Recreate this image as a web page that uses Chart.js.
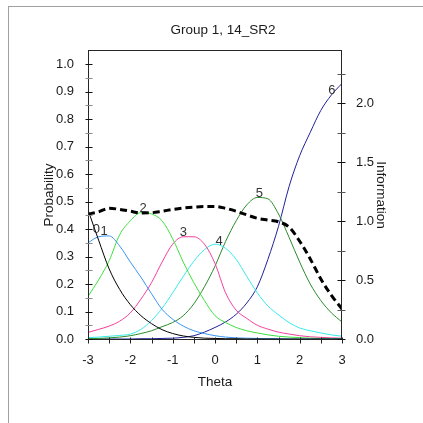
<!DOCTYPE html>
<html>
<head>
<meta charset="utf-8">
<title>Group 1, 14_SR2</title>
<script src="https://cdn.jsdelivr.net/npm/chart.js@4/dist/chart.umd.min.js"></script>
<style>
  html, body { margin: 0; padding: 0; background: #fff; }
  #wrap { position: relative; width: 423px; height: 423px; overflow: hidden; }
  #frame { position: absolute; left: 8px; top: 6px; right: -2px; bottom: -2px;
           border-top: 1px solid #a0a0a0; border-left: 1px solid #a0a0a0; }
  canvas { position: absolute; left: 0; top: 0; }
</style>
</head>
<body>
<div id="wrap">
  <div id="frame"></div>
  <canvas id="chart" width="423" height="423"></canvas>
</div>
<script>
// Ability grid (theta) shared by every curve
const theta = [-3, -2.75, -2.5, -2.25, -2, -1.75, -1.5, -1.25, -1, -0.75, -0.5, -0.25,
               0, 0.25, 0.5, 0.75, 1, 1.25, 1.5, 1.75, 2, 2.25, 2.5, 2.75, 3];

// Category response probabilities, one array per score category
const cat0 = [0.47, 0.36, 0.255, 0.18, 0.125, 0.085, 0.056, 0.034, 0.02, 0.011, 0.006, 0.003,
              0.002, 0.001, 0.001, 0, 0, 0, 0, 0, 0, 0, 0, 0, 0];
const cat1 = [0.35, 0.372, 0.375, 0.338, 0.28, 0.225, 0.165, 0.108, 0.072, 0.047, 0.03, 0.02,
              0.012, 0.007, 0.004, 0.003, 0.002, 0.001, 0.001, 0, 0, 0, 0, 0, 0];
const cat2 = [0.155, 0.215, 0.285, 0.38, 0.43, 0.46, 0.455, 0.43, 0.365, 0.28, 0.205, 0.14,
              0.085, 0.06, 0.042, 0.03, 0.022, 0.015, 0.01, 0.007, 0.005, 0.003, 0.002, 0.001, 0.001];
const cat3 = [0.024, 0.035, 0.047, 0.065, 0.095, 0.145, 0.205, 0.28, 0.345, 0.372, 0.372, 0.345,
              0.275, 0.168, 0.105, 0.075, 0.05, 0.036, 0.025, 0.018, 0.012, 0.008, 0.006, 0.004, 0.003];
const cat4 = [0.005, 0.007, 0.01, 0.013, 0.018, 0.035, 0.067, 0.112, 0.168, 0.228, 0.283, 0.325,
              0.345, 0.33, 0.29, 0.228, 0.168, 0.12, 0.088, 0.06, 0.04, 0.03, 0.022, 0.015, 0.01];
const cat5 = [0.001, 0.002, 0.004, 0.007, 0.012, 0.02, 0.03, 0.045, 0.06, 0.085, 0.128, 0.19,
              0.265, 0.355, 0.43, 0.488, 0.515, 0.51, 0.455, 0.37, 0.28, 0.2, 0.14, 0.095, 0.062];
const cat6 = [0, 0, 0, 0, 0, 0.001, 0.001, 0.002, 0.003, 0.006, 0.012, 0.025,
              0.042, 0.062, 0.09, 0.131, 0.19, 0.29, 0.41, 0.555, 0.667, 0.752, 0.832, 0.888, 0.93];

// Item information function (right axis)
const information = [1.06, 1.08, 1.11, 1.1, 1.085, 1.07, 1.072, 1.085, 1.1, 1.112, 1.12, 1.125,
                     1.125, 1.11, 1.085, 1.054, 1.025, 1.01, 0.995, 0.95, 0.83, 0.68, 0.51, 0.37, 0.255];

const categories = [cat0, cat1, cat2, cat3, cat4, cat5, cat6];
const categoryNames = ['0', '1', '2', '3', '4', '5', '6'];
// Theta at which each category number is written on its curve
const labelTheta = [-2.8, -2.62, -1.7, -0.75, 0.1, 1.05, 2.76];

// Axis ticks
const xTicks = [-3, -2, -1, 0, 1, 2, 3];
const xMinorTicks = [-3, -2.5, -2, -1.5, -1, -0.5, 0, 0.5, 1, 1.5, 2, 2.5, 3];
const probTicks = [0, 0.1, 0.2, 0.3, 0.4, 0.5, 0.6, 0.7, 0.8, 0.9, 1.0];
const probMinorTicks = [0.05, 0.15, 0.25, 0.35, 0.45, 0.55, 0.65, 0.75, 0.85, 0.95];
const infoTicks = [0, 0.5, 1.0, 1.5, 2.0];
const infoMinorTicks = [0.25, 0.75, 1.25, 1.75, 2.25];

const categoryColors = ['#000000', '#3a94f0', '#3ee03e', '#f23e9c', '#38eaea', '#2a8a2a', '#20209a'];
const FONT = "Arial, 'Liberation Sans', sans-serif";
const TEXT = '#1a1a1a';

function valueAt(series, t) {
  for (let i = 0; i < theta.length - 1; i++) {
    if (t >= theta[i] && t <= theta[i + 1]) {
      const f = (t - theta[i]) / (theta[i + 1] - theta[i]);
      return series[i] + f * (series[i + 1] - series[i]);
    }
  }
  return series[series.length - 1];
}

// Plot frame, crossing tick marks and the category numbers on the curves
const frameAndMarks = {
  id: 'frameAndMarks',
  afterDatasetsDraw(chart) {
    const { ctx, chartArea: a, scales } = chart;
    const L = Math.round(a.left) + 0.5, R = Math.round(a.right) - 0.5;
    const T = Math.round(a.top) - 0.5, B = Math.round(a.bottom) + 0.5;
    ctx.save();
    ctx.lineWidth = 1;
    ctx.strokeStyle = '#262626';
    ctx.strokeRect(L, T, R - L, B - T);

    const hTick = (x0, x1, y, color) => {
      const yy = Math.round(y) + 0.5;
      ctx.strokeStyle = color;
      ctx.beginPath(); ctx.moveTo(x0, yy); ctx.lineTo(x1, yy); ctx.stroke();
    };
    probTicks.forEach(v => hTick(L - 3, L + 4, scales.y.getPixelForValue(v), '#111'));
    probMinorTicks.forEach(v => hTick(L - 3, L + 4, scales.y.getPixelForValue(v), '#8a8a8a'));
    infoTicks.forEach(v => hTick(R - 4, R + 4, scales.y2.getPixelForValue(v), '#111'));
    infoMinorTicks.forEach(v => hTick(R - 4, R + 4, scales.y2.getPixelForValue(v), '#555'));
    ctx.strokeStyle = '#222';
    xMinorTicks.forEach(v => {
      const xx = Math.round(scales.x.getPixelForValue(v)) + 0.5;
      ctx.beginPath(); ctx.moveTo(xx, B - 2); ctx.lineTo(xx, B + 4); ctx.stroke();
    });

    ctx.fillStyle = '#333';
    ctx.font = '13px ' + FONT;
    ctx.textAlign = 'center';
    ctx.textBaseline = 'alphabetic';
    categories.forEach((series, k) => {
      const t = labelTheta[k];
      const x = scales.x.getPixelForValue(t);
      const y = scales.y.getPixelForValue(valueAt(series, t));
      ctx.fillText(categoryNames[k], x, y - 1);
    });
    ctx.restore();
  }
};

const datasets = [{
  label: 'Information',
  data: theta.map((t, i) => ({ x: t, y: information[i] })),
  yAxisID: 'y2',
  borderColor: '#000',
  borderWidth: 3,
  borderDash: [7, 4],
  pointRadius: 0,
  cubicInterpolationMode: 'monotone',
  fill: false
}].concat(categories.map((series, k) => ({
  label: categoryNames[k],
  data: theta.map((t, i) => ({ x: t, y: series[i] })),
  yAxisID: 'y',
  borderColor: categoryColors[k],
  borderWidth: 1,
  pointRadius: 0,
  cubicInterpolationMode: 'monotone',
  fill: false
})));

const tickFont = { family: FONT, size: 13 };
const titleFont = { family: FONT, size: 13.5, weight: 'normal' };

new Chart(document.getElementById('chart'), {
  type: 'line',
  data: { datasets },
  options: {
    responsive: false,
    animation: false,
    events: [],
    layout: { padding: { left: 23, right: 0, top: 0, bottom: 0 } },
    plugins: {
      legend: { display: false },
      tooltip: { enabled: false },
      title: {
        display: true,
        text: 'Group 1, 14_SR2',
        color: TEXT,
        font: titleFont,
        padding: { top: 21.9, bottom: 12.9 }
      }
    },
    scales: {
      x: {
        type: 'linear',
        position: 'bottom',
        min: -3, max: 3,
        afterBuildTicks: s => { s.ticks = xTicks.map(v => ({ value: v })); },
        afterFit: s => { s.height = 84; },
        grid: { display: false },
        border: { display: false },
        ticks: { padding: 6, color: TEXT, font: tickFont, maxRotation: 0, autoSkip: false,
                 callback: v => String(v) },
        title: { display: true, text: 'Theta', color: TEXT, font: titleFont,
                 padding: { top: 0, bottom: 32.9 } }
      },
      y: {
        type: 'linear',
        position: 'left',
        min: 0, max: 1.048,
        afterBuildTicks: s => { s.ticks = probTicks.map(v => ({ value: v })); },
        afterFit: s => { s.width = 65; },
        grid: { display: false },
        border: { display: false },
        ticks: { padding: 6, color: TEXT, font: tickFont, callback: v => Number(v).toFixed(1) },
        title: { display: true, text: 'Probability', color: TEXT, font: titleFont,
                 padding: { top: 17.9, bottom: 0 } }
      },
      y2: {
        type: 'linear',
        position: 'right',
        min: 0, max: 2.445,
        afterBuildTicks: s => { s.ticks = infoTicks.map(v => ({ value: v })); },
        afterFit: s => { s.width = 81; },
        grid: { display: false },
        border: { display: false },
        ticks: { padding: 6, color: TEXT, font: tickFont, callback: v => Number(v).toFixed(1) },
        title: { display: true, text: 'Information', color: TEXT, font: titleFont,
                 padding: { top: 34.4, bottom: 0 } }
      }
    }
  },
  plugins: [frameAndMarks]
});
</script>
</body>
</html>
